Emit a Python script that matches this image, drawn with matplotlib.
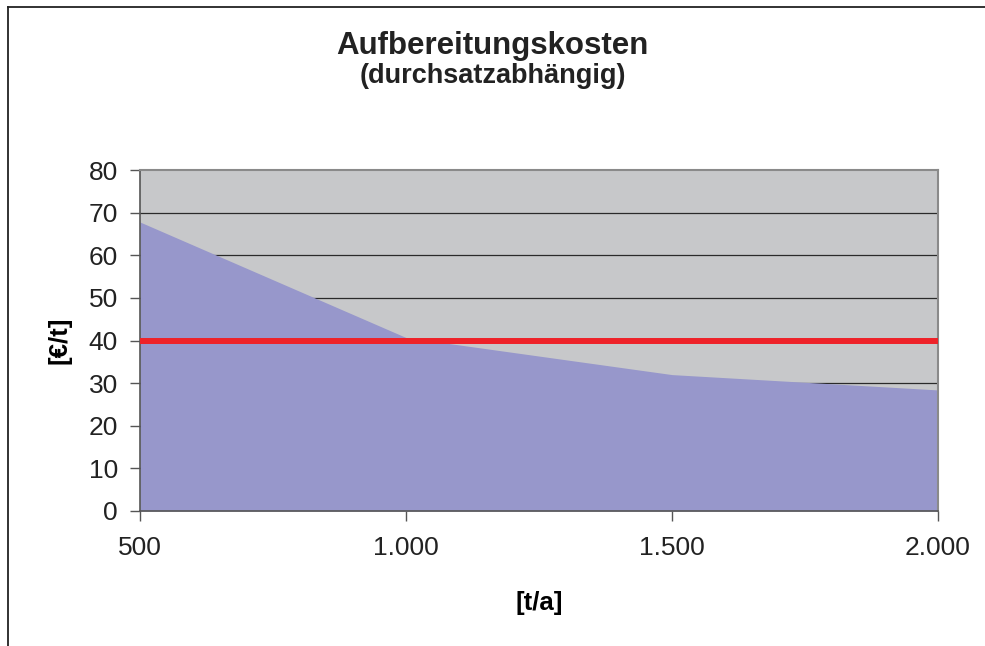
import matplotlib.pyplot as plt
from matplotlib.lines import Line2D

plt.rcParams['font.family'] = ['Liberation Sans', 'DejaVu Sans']

# data
durchsatz = [500, 1000, 1500, 2000]
kosten = [67.8, 40.7, 32.0, 28.4]
referenz_kosten = 40
x_tick_labels = ['500', '1.000', '1.500', '2.000']
y_ticks = [0, 10, 20, 30, 40, 50, 60, 70, 80]

fig = plt.figure(figsize=(9.85, 6.46), dpi=100)
ax = fig.add_axes([140 / 985, 1 - 511 / 646, 798 / 985, 341 / 646])

ax.set_facecolor('#c7c8ca')
ax.fill_between(durchsatz, kosten, 0, color='#9797cb', lw=0, zorder=2)
ax.axhline(referenz_kosten, color='#ee2229', lw=4.3, zorder=3)

for y in y_ticks[1:-1]:
    ax.axhline(y, color='#2a2a2a', lw=0.9, zorder=1)

ax.set_xlim(durchsatz[0], durchsatz[-1])
ax.set_ylim(0, 80)
ax.set_xticks(durchsatz)
ax.set_xticklabels(x_tick_labels)
ax.set_yticks(y_ticks)

ax.tick_params(axis='both', labelsize=19, colors='#222222', direction='out')
ax.tick_params(axis='y', length=7, width=1, pad=9, color='#555555')
ax.tick_params(axis='x', length=7, width=1, pad=11, color='#555555')

for side in ['left', 'bottom']:
    ax.spines[side].set_color('#555555')
    ax.spines[side].set_linewidth(1.2)
for side in ['top', 'right']:
    ax.spines[side].set_color('#8a8a8a')
    ax.spines[side].set_linewidth(1.5)

ax.set_xlabel('[t/a]', fontsize=18.5, fontweight='bold', labelpad=22)
ax.set_ylabel('[€/t]', fontsize=18.5, fontweight='bold', labelpad=12)

fig.text(0.5, 1 - 54 / 646, 'Aufbereitungskosten', ha='center', va='baseline',
         fontsize=22.5, fontweight='bold', color='#222222')
fig.text(0.5, 1 - 83 / 646, '(durchsatzabhängig)', ha='center', va='baseline',
         fontsize=19.5, fontweight='bold', color='#222222')

# outer chart frame (only left and top edges visible in the reference)
fig.add_artist(Line2D([8 / 985, 8 / 985], [0, 1 - 7 / 646], transform=fig.transFigure,
                      color='#222222', lw=1.3))
fig.add_artist(Line2D([8 / 985, 1], [1 - 7 / 646, 1 - 7 / 646], transform=fig.transFigure,
                      color='#222222', lw=1.3))

fig.savefig('out.png', dpi=100)
